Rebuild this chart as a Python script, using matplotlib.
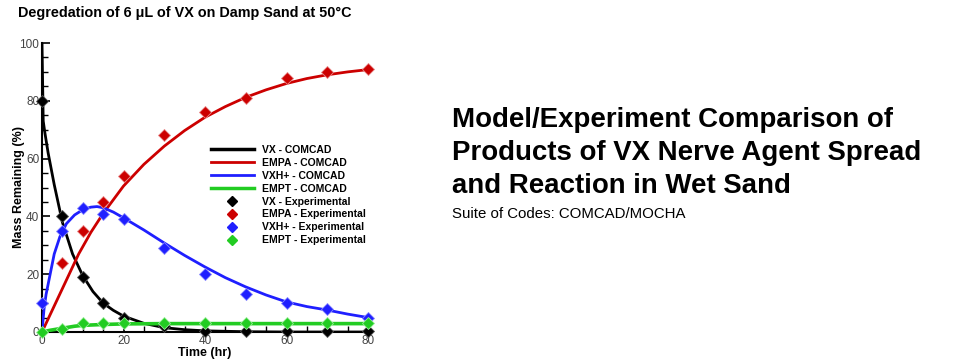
import matplotlib
matplotlib.use("Agg")
import matplotlib.pyplot as plt
from matplotlib.lines import Line2D
from matplotlib.ticker import MultipleLocator

plt.rcParams['font.family'] = ['Liberation Sans', 'DejaVu Sans']

# Experimental data
t_exp = [0, 5, 10, 15, 20, 30, 40, 50, 60, 70, 80]
vx_exp = [80, 40, 19, 10, 5, 2, 0.5, 0.5, 0.5, 0.5, 0.5]
t_empa_exp = [5, 10, 15, 20, 30, 40, 50, 60, 70, 80]
empa_exp = [24, 35, 45, 54, 68, 76, 81, 88, 90, 91]
vxh_exp = [10, 35, 43, 41, 39, 29, 20, 13, 10, 8, 5]
empt_exp = [0, 1, 3, 3, 3, 3, 3, 3, 3, 3, 3]

# Model curves
t_vx_mod = [0, 0.3, 0.7, 1.5, 3, 5, 7.5, 10, 12.5, 15, 17.5, 20, 25, 30, 35, 40, 50, 60, 70, 80]
vx_mod = [100, 73, 69, 62, 51, 38, 27, 19.5, 14, 10, 7.5, 5.5, 3, 1.5, 0.8, 0.4, 0.1, 0, 0, 0]
t_empa_mod = [0, 2, 5, 9, 12, 15, 20, 25, 30, 35, 40, 45, 50, 55, 60, 65, 70, 75, 80]
empa_mod = [0, 6, 15, 27, 34.5, 41, 50.5, 58, 64.3, 69.7, 74.3, 78, 81.2, 83.8, 86, 87.7, 89, 90, 90.8]
t_vxh_mod = [0, 0.5, 1, 2, 3, 4.4, 6, 8, 10, 12, 13.5, 15, 17.5, 20, 25, 30, 35, 40, 45, 50, 55, 60, 65, 70, 75, 80]
vxh_mod = [0, 8, 13, 20, 27, 33, 37.5, 40.5, 42.3, 43.2, 43.4, 43, 41.5, 39.5, 35.3, 30.8, 26.5, 22.5, 18.8, 15.6, 12.8, 10.4, 8.8, 7.6, 6.2, 5.0]
t_empt_mod = [0, 2, 5, 8, 10, 15, 20, 30, 40, 50, 60, 70, 80]
empt_mod = [0, 0.6, 1.3, 2.0, 2.3, 2.6, 2.8, 2.9, 2.9, 2.9, 2.9, 2.9, 2.9]

BLACK = '#000000'
RED = '#cc0000'
BLUE = '#1f1fff'
GREEN = '#22cc22'

fig = plt.figure(figsize=(9.8, 3.62), dpi=100)
ax = fig.add_axes([42/980, 30/362, 326/980, 289/362])

lw = 2.0
ax.plot(t_vx_mod, vx_mod, color=BLACK, lw=lw, zorder=3)
ax.plot(t_empa_mod, empa_mod, color=RED, lw=lw, zorder=3)
ax.plot(t_vxh_mod, vxh_mod, color=BLUE, lw=lw, zorder=3)
ax.plot(t_empt_mod, empt_mod, color=GREEN, lw=lw + 0.6, zorder=3)

ms = 6
mk = dict(marker='D', linestyle='none', markersize=ms, markeredgewidth=0.6, clip_on=False, zorder=4)
ax.plot(t_exp, vx_exp, color=BLACK, markeredgecolor='#555555', **mk)
ax.plot(t_empa_exp, empa_exp, color=RED, markeredgecolor='#e88888', **mk)
ax.plot(t_exp, vxh_exp, color=BLUE, markeredgecolor='#8888ff', **mk)
ax.plot(t_exp, empt_exp, color=GREEN, markeredgecolor='#99ee99', **mk)

ax.set_xlim(0, 80)
ax.set_ylim(0, 100)
ax.xaxis.set_major_locator(MultipleLocator(20))
ax.xaxis.set_minor_locator(MultipleLocator(5))
ax.yaxis.set_major_locator(MultipleLocator(20))
ax.yaxis.set_minor_locator(MultipleLocator(5))
ax.spines['top'].set_visible(False)
ax.spines['right'].set_visible(False)
for s in ('left', 'bottom'):
    ax.spines[s].set_linewidth(1.5)
ax.tick_params(which='major', direction='in', length=6, width=1.2, labelsize=8.5, labelcolor='#444444', pad=2)
ax.tick_params(which='minor', direction='in', length=4, width=1.0)
ax.set_xlabel('Time (hr)', fontsize=9, fontweight='bold', labelpad=0)
ax.set_ylabel('Mass Remaining (%)', fontsize=9, fontweight='bold', labelpad=-4)

handles = [
    Line2D([], [], color=BLACK, lw=2.5),
    Line2D([], [], color=RED, lw=2.0),
    Line2D([], [], color=BLUE, lw=2.0),
    Line2D([], [], color=GREEN, lw=2.5),
    Line2D([], [], color=BLACK, marker='D', linestyle='none', markersize=5),
    Line2D([], [], color=RED, marker='D', linestyle='none', markersize=5),
    Line2D([], [], color=BLUE, marker='D', linestyle='none', markersize=5),
    Line2D([], [], color=GREEN, marker='D', linestyle='none', markersize=5),
]
labels = ['VX - COMCAD', 'EMPA - COMCAD', 'VXH+ - COMCAD', 'EMPT - COMCAD',
          'VX - Experimental', 'EMPA - Experimental', 'VXH+ - Experimental', 'EMPT - Experimental']
leg = ax.legend(handles, labels, loc='upper left', bbox_to_anchor=(0.49, 0.68), frameon=False,
                handlelength=4.1, handletextpad=0.8, labelspacing=0.28,
                prop={'weight': 'bold', 'size': 7.5})

fig.text(18/980, 1 - 13/362, 'Degredation of 6 \u03bcL of VX on Damp Sand at 50\u00b0C',
         fontsize=10.4, fontweight='bold', va='center', ha='left')

fig.text(452/980, 1 - 120/362, 'Model/Experiment Comparison of', fontsize=19.9, fontweight='bold', va='center', ha='left')
fig.text(452/980, 1 - 153/362, 'Products of VX Nerve Agent Spread', fontsize=19.9, fontweight='bold', va='center', ha='left')
fig.text(452/980, 1 - 186/362, 'and Reaction in Wet Sand', fontsize=19.9, fontweight='bold', va='center', ha='left')
fig.text(452/980, 1 - 214/362, 'Suite of Codes: COMCAD/MOCHA', fontsize=10.8, va='center', ha='left')

fig.savefig('out.png', dpi=100)
